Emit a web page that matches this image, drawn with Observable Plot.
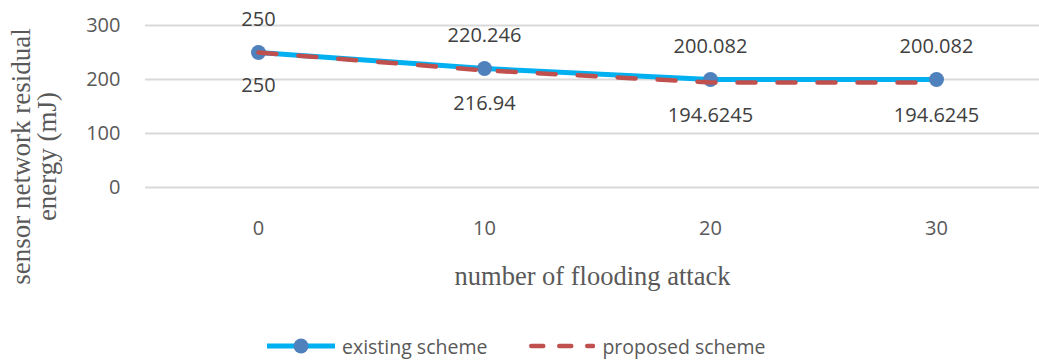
<!DOCTYPE html>
<html>
<head>
<meta charset="utf-8">
<script src="https://cdn.jsdelivr.net/npm/d3@7"></script>
<script src="https://cdn.jsdelivr.net/npm/@observablehq/plot@0.6"></script>
<style>
  body { margin: 0; background: #fff; font-family: "Open Sans", sans-serif; }
  #chart { width: 1039px; }
  .legend { display: flex; align-items: center; height: 52px; padding-left: 267px; color: #595959; font-size: 19.5px; }
  .legend .item { display: flex; align-items: center; }
  .legend svg { display: block; margin-right: 7px; }
  .legend .gap { width: 42px; }
</style>
</head>
<body>
<div id="chart"></div>
<script>
// Residual energy of the sensor network under flooding attacks
const attacks = [0, 10, 20, 30];
const existingScheme = [250, 220.246, 200.082, 200.082];
const proposedScheme = [250, 216.94, 194.6245, 194.6245];
const yTicks = [0, 100, 200, 300];
const seriesNames = ["existing scheme", "proposed scheme"];
const xTitle = "number of flooding attack";
const yTitle = ["sensor network residual", "energy (mJ)"];

const existingLine = "#00B0F0";
const existingMarker = "#4F81BD";
const proposedColor = "#C0504D";
const serif = '"Liberation Serif", "Times New Roman", serif';

const existing = attacks.map((a, i) => ({attack: a, energy: existingScheme[i]}));
const proposed = attacks.map((a, i) => ({attack: a, energy: proposedScheme[i]}));

const chart = Plot.plot({
  width: 1039,
  height: 320,
  marginTop: 25,
  marginBottom: 133,
  marginLeft: 145,
  marginRight: 0,
  style: {fontFamily: '"Open Sans", sans-serif', fontSize: "20px", color: "#595959", background: "#fff"},
  x: {type: "point", domain: attacks, range: [258, 936], padding: 0},
  y: {domain: [0, 300]},
  marks: [
    Plot.gridY(yTicks, {stroke: "#d9d9d9", strokeOpacity: 1, strokeWidth: 1.8}),
    Plot.axisY(yTicks, {tickSize: 0, tickPadding: 25, label: null, fill: "#595959"}),
    Plot.axisX(attacks, {tickSize: 0, tickPadding: 33, label: null, fill: "#595959"}),
    Plot.line(existing, {x: "attack", y: "energy", stroke: existingLine, strokeWidth: 5}),
    Plot.dot(existing, {x: "attack", y: "energy", r: 7.5, fill: existingMarker, stroke: null}),
    Plot.line(proposed, {x: "attack", y: "energy", stroke: proposedColor, strokeWidth: 4.5,
      strokeDasharray: "18,22", strokeLinecap: "round"}),
    Plot.text(existing, {x: "attack", y: "energy", text: d => String(d.energy),
      dy: -32.5, lineAnchor: "middle", fill: "#404040", fontSize: 20}),
    Plot.text(proposed, {x: "attack", y: "energy", text: d => String(d.energy),
      dy: 33, lineAnchor: "middle", fill: "#404040", fontSize: 20}),
    Plot.text([xTitle], {frameAnchor: "bottom", dy: 89, lineAnchor: "middle", textAnchor: "middle",
      fontFamily: serif, fontSize: 26.5, fill: "#595959"}),
    Plot.text([yTitle.join("\n")], {frameAnchor: "left", rotate: -90, dx: -110.5, dy: 50,
      textAnchor: "middle", lineAnchor: "middle", lineHeight: 0.96,
      fontFamily: serif, fontSize: 27, fill: "#595959"})
  ]
});
document.getElementById("chart").append(chart);

// Legend below the chart
const legend = d3.select("#chart").append("div").attr("class", "legend");
const item1 = legend.append("div").attr("class", "item");
const s1 = item1.append("svg").attr("width", 68).attr("height", 16);
s1.append("line").attr("x1", 0).attr("x2", 68).attr("y1", 8).attr("y2", 8)
  .attr("stroke", existingLine).attr("stroke-width", 5);
s1.append("circle").attr("cx", 34).attr("cy", 8).attr("r", 7.5).attr("fill", existingMarker);
item1.append("span").text(seriesNames[0]);
legend.append("div").attr("class", "gap");
const item2 = legend.append("div").attr("class", "item");
const s2 = item2.append("svg").attr("width", 66).attr("height", 16);
s2.append("line").attr("x1", 2.25).attr("x2", 64).attr("y1", 8).attr("y2", 8)
  .attr("stroke", proposedColor).attr("stroke-width", 4.5)
  .attr("stroke-dasharray", "12,16").attr("stroke-linecap", "round");
item2.append("span").text(seriesNames[1]);
</script>
</body>
</html>
